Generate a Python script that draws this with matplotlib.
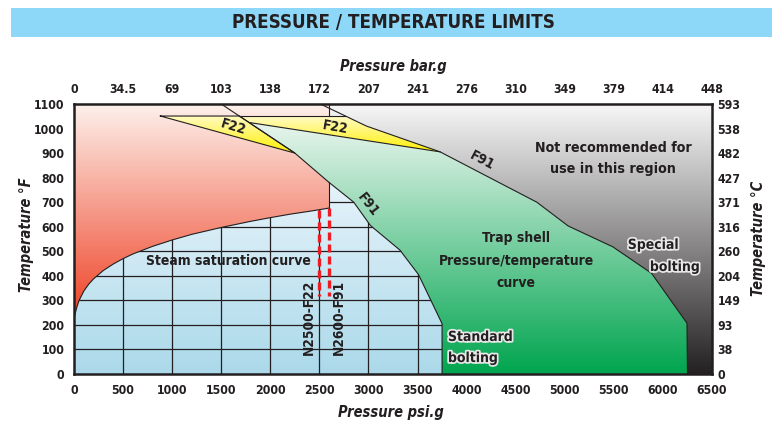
import numpy as np
import matplotlib
matplotlib.use('Agg')
import matplotlib.pyplot as plt
from matplotlib.patches import Polygon, Rectangle
from matplotlib.colors import LinearSegmentedColormap
import matplotlib.patheffects as pe

plt.rcParams['font.family'] = ['DejaVu Sans']
plt.rcParams['font.stretch'] = 'condensed'

dark = '#231f20'

# axis ticks
psi_ticks = [0, 500, 1000, 1500, 2000, 2500, 3000, 3500, 4000, 4500, 5000, 5500, 6000, 6500]
bar_labels = ['0', '34.5', '69', '103', '138', '172', '207', '241', '276', '310', '349', '379', '414', '448']
degf_ticks = [0, 100, 200, 300, 400, 500, 600, 700, 800, 900, 1000, 1100]
degc_labels = ['0', '38', '93', '149', '204', '260', '316', '371', '427', '482', '538', '593']

# steam saturation curve (psi.g, degF)
sat_p = [0, 25, 50, 100, 150, 200, 300, 400, 500, 600, 800, 1000, 1200, 1500, 1800, 2000, 2200, 2400, 2600]
sat_t = [225, 267, 298, 338, 366, 388, 422, 448, 470, 489, 520, 546, 569, 597, 622, 637, 651, 663, 676]

# F22 boundary (left diagonal)
f22_p = [1500, 2250, 2600]
f22_t = [1100, 900, 780]

# F91 boundary, standard bolting (inner)
f91_in_p = [2600, 2850, 3020, 3320, 3510, 3750, 3750]
f91_in_t = [780, 700, 605, 505, 405, 205, 0]

# F91 boundary, special bolting (outer)
f91_out_p = [2510, 2980, 3730, 4715, 5035, 5490, 5885, 6245, 6250]
f91_out_t = [1100, 1010, 905, 700, 603, 518, 410, 207, 0]

# yellow F22 wedges
wedge1_p = [880, 1685, 2250]
wedge1_t = [1051, 1051, 900]
wedge2_p = [1685, 2766, 2980, 3730, 1795]
wedge2_t = [1051, 1051, 1010, 905, 1024]

# model limit lines
model_p = [2500, 2600]
model_top = [670, 676]
model_bot = 318


def grad_fill(ax, px, py, c_top, c_bot, t_top, t_bot, z):
    poly = Polygon(np.column_stack([px, py]), closed=True, fc='none', ec='none')
    ax.add_patch(poly)
    cmap = LinearSegmentedColormap.from_list('g', [c_bot, c_top])
    grad = np.linspace(0, 1, 256).reshape(-1, 1)
    im = ax.imshow(grad, cmap=cmap, origin='lower', extent=[0, 6500, t_bot, t_top],
                   aspect='auto', zorder=z, interpolation='bilinear')
    im.set_clip_path(poly)
    return poly


fig = plt.figure(figsize=(7.72, 4.24), dpi=100)
ax = fig.add_axes([74/772, 50/424, 638/772, 270/424])

# background (not recommended region)
grad_fill(ax, [0, 6500, 6500, 0], [0, 0, 1100, 1100], '#f7f7f8', '#242122', 1100, 0, 1)

# red region above saturation
red_p = sat_p + [2600, 2250, 1685, 2600, 2600, 0]
red_t = sat_t + [780, 900, 1051, 1051, 1100, 1100]
grad_fill(ax, red_p, red_t, '#fdf0eb', '#ee3f22', 1100, 212, 2)

# green trap shell region
green_p = [1685, 2250] + f91_in_p + f91_out_p[::-1][:-1] + [2766]
green_t = [1051, 900] + f91_in_t + f91_out_t[::-1][:-1] + [1051]
grad_fill(ax, green_p, green_t, '#eef7f1', '#00a54f', 1051, 0, 3)

# blue standard region
blue_p = [0] + sat_p + f91_in_p
blue_t = [0] + sat_t + f91_in_t
blue_poly = grad_fill(ax, blue_p, blue_t, '#e6f3fa', '#abd9ea', 780, 0, 4)

# grid inside blue area
for x in range(500, 3750, 500):
    ln, = ax.plot([x, x], [0, 1100], color=dark, lw=0.9, zorder=5)
    ln.set_clip_path(blue_poly)
for t in range(100, 800, 100):
    ln, = ax.plot([0, 6500], [t, t], color=dark, lw=0.9, zorder=5)
    ln.set_clip_path(blue_poly)

# yellow wedges
grad_fill(ax, wedge1_p, wedge1_t, '#fffbc6', '#fff000', 1051, 900, 6)
grad_fill(ax, wedge2_p, wedge2_t, '#fffbc6', '#fff000', 1051, 905, 6)

# boundary lines
lk = dict(color=dark, lw=0.8, zorder=7)
ax.plot(sat_p, sat_t, **lk)
ax.plot(f22_p, f22_t, **lk)
ax.plot(f91_in_p, f91_in_t, **lk)
ax.plot(f91_out_p, f91_out_t, **lk)
ax.plot(wedge1_p + [wedge1_p[0]], wedge1_t + [wedge1_t[0]], **lk)
ax.plot([wedge2_p[0], wedge2_p[1]], [wedge2_t[0], wedge2_t[1]], **lk)
ax.plot(wedge2_p[3:], wedge2_t[3:], **lk)
ax.plot([2600, 2600], [676, 780], **lk)
ax.plot([2600, 2600], [1051, 1100], **lk)

# model limits
for x, top in zip(model_p, model_top):
    ax.plot([x, x], [top, model_bot], color='#ed1c24', lw=2.4, ls=(0, (2.4, 1.2)), zorder=8)

tk = dict(color=dark, weight='bold', zorder=9, ha='center', va='center')
ax.text(1620, 1006, 'F22', fontsize=10, rotation=-17, **tk)
ax.text(2659, 1006, 'F22', fontsize=10, rotation=-10, **tk)
ax.text(4154, 868, 'F91', fontsize=10, rotation=-28, **tk)
ax.text(3000, 690, 'F91', fontsize=10, rotation=-52, **tk)
ax.text(5491, 919, 'Not recommended for', fontsize=10.2, **tk)
ax.text(5491, 835, 'use in this region', fontsize=10.2, **tk)
ax.text(4508, 554, 'Trap shell', fontsize=10, **tk)
ax.text(4508, 460, 'Pressure/temperature', fontsize=10, **tk)
ax.text(4508, 371, 'curve', fontsize=10, **tk)
glow = [pe.withStroke(linewidth=2.5, foreground='#e8e8e8')]
ax.text(5899, 526, 'Special', fontsize=10, path_effects=glow, **tk)
ax.text(6118, 436, 'bolting', fontsize=10, path_effects=glow, **tk)
tk_left = dict(tk, ha='left')
ax.text(3810, 151, 'Standard', fontsize=10, path_effects=glow, **tk_left)
ax.text(3810, 65, 'bolting', fontsize=10, path_effects=glow, **tk_left)
ax.text(1569, 460, 'Steam saturation curve', fontsize=10, **tk)
ax.text(2394, 232, 'N2500-F22', fontsize=9.8, rotation=90, **tk)
ax.text(2700, 232, 'N2600-F91', fontsize=9.8, rotation=90, **tk)

ax.set_xlim(0, 6500)
ax.set_ylim(0, 1100)
ax.set_xticks(psi_ticks)
ax.set_yticks(degf_ticks)
ax.tick_params(length=0, labelsize=8.8, colors=dark, pad=7)
ax.tick_params(axis='y', pad=7)
for lab in ax.get_xticklabels() + ax.get_yticklabels():
    lab.set_fontweight('bold')
for s in ax.spines.values():
    s.set_linewidth(1.8)
    s.set_color(dark)
    s.set_zorder(10)

ax_top = ax.twiny()
ax_top.set_xlim(0, 6500)
ax_top.set_xticks(psi_ticks)
ax_top.set_xticklabels(bar_labels, fontweight='bold')
ax_top.tick_params(length=0, labelsize=8.8, colors=dark, pad=6)

ax_r = ax.twinx()
ax_r.set_ylim(0, 1100)
ax_r.set_yticks(degf_ticks)
ax_r.set_yticklabels(degc_labels, fontweight='bold')
ax_r.tick_params(length=0, labelsize=8.8, colors=dark, pad=4)
for a in (ax_top, ax_r):
    for s in a.spines.values():
        s.set_visible(False)

# title band
fig.patches.append(Rectangle((11/772, 1 - 37/424), 761/772, 29/424, transform=fig.transFigure,
                             fc='#8dd8f8', ec='none'))
fig.text(393/772, 1 - 22/424, 'PRESSURE / TEMPERATURE LIMITS', ha='center', va='center',
         fontsize=13.5, weight='bold', color=dark)

lab = dict(fontsize=10.5, weight='bold', style='italic', color=dark, ha='center', va='center')
fig.text(393/772, 1 - 67/424, 'Pressure bar.g', **lab)
fig.text(391/772, 1 - 413/424, 'Pressure psi.g', **lab)
fig.text(27/772, 1 - 235/424, 'Temperature °F', rotation=90, **lab)
fig.text(758/772, 1 - 238/424, 'Temperature °C', rotation=90, **lab)

fig.savefig('out.png', dpi=100)
